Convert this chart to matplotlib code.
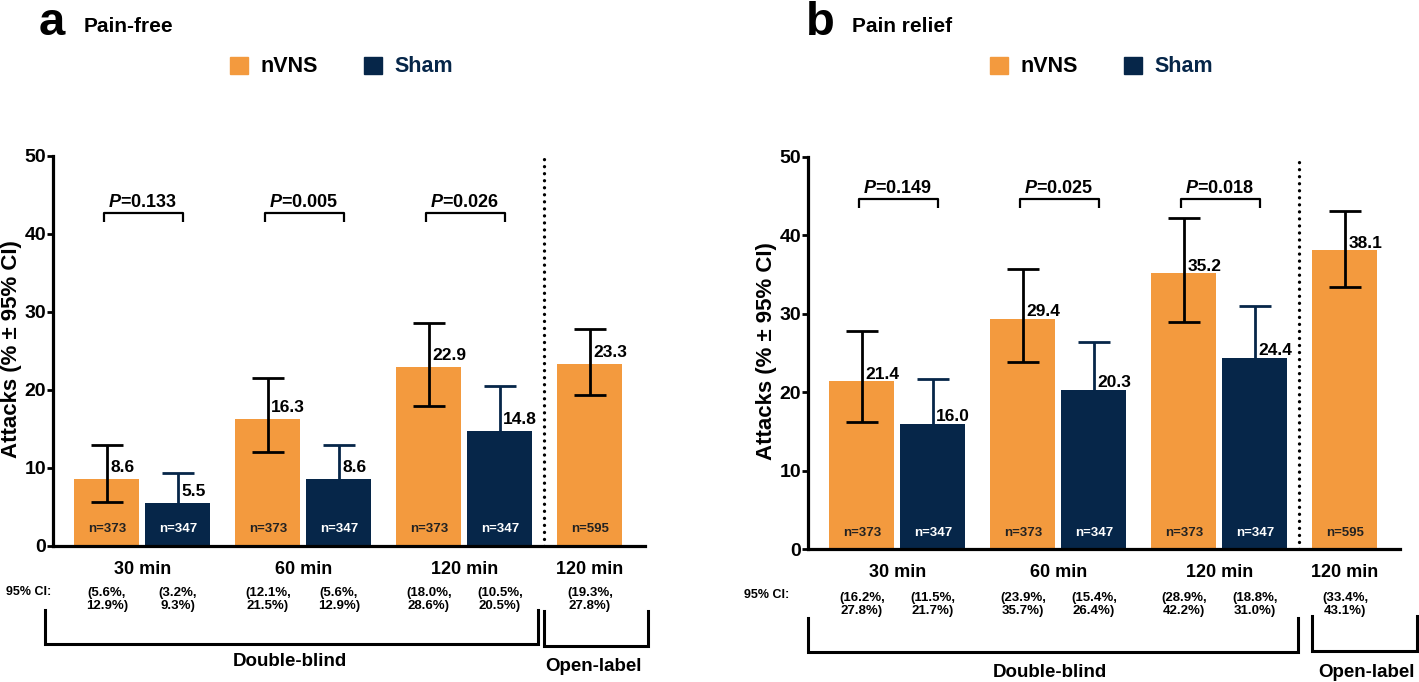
import matplotlib
matplotlib.use("Agg")
import matplotlib.pyplot as plt
from matplotlib.patches import Rectangle
from matplotlib.transforms import blended_transform_factory

plt.rcParams['font.family'] = 'Liberation Sans'
plt.rcParams['font.weight'] = 'bold'
plt.rcParams['axes.labelweight'] = 'bold'
plt.rcParams['mathtext.fontset'] = 'custom'
plt.rcParams['mathtext.it'] = 'Liberation Sans:italic:bold'
plt.rcParams['mathtext.rm'] = 'Liberation Sans:bold'

ORANGE = '#f39a3e'
NAVY = '#062649'
W, H = 1419, 682

times = ['30 min', '60 min', '120 min']
open_time = '120 min'
n_nvns = [373, 373, 373, 595]
n_sham = [347, 347, 347]

# a: pain-free
pf_nvns = [8.6, 16.3, 22.9, 23.3]
pf_nvns_lo = [5.6, 12.1, 18.0, 19.3]
pf_nvns_hi = [12.9, 21.5, 28.6, 27.8]
pf_sham = [5.5, 8.6, 14.8]
pf_sham_lo = [3.2, 5.6, 10.5]
pf_sham_hi = [9.3, 12.9, 20.5]
pf_p = ['0.133', '0.005', '0.026']

# b: pain relief
pr_nvns = [21.4, 29.4, 35.2, 38.1]
pr_nvns_lo = [16.2, 23.9, 28.9, 33.4]
pr_nvns_hi = [27.8, 35.7, 42.2, 43.1]
pr_sham = [16.0, 20.3, 24.4]
pr_sham_lo = [11.5, 15.4, 18.8]
pr_sham_hi = [21.7, 26.4, 31.0]
pr_p = ['0.149', '0.025', '0.018']

BW = 0.404
OFF = 0.441


def draw_panel(ax, nvns, nvns_lo, nvns_hi, sham, sham_lo, sham_hi, pvals, lay):
    xo = list(range(len(nvns)))
    xs = [i + OFF for i in range(len(sham))]
    ax.bar(xo, nvns, width=BW, color=ORANGE, zorder=2)
    ax.bar(xs, sham, width=BW, color=NAVY, zorder=2)
    err_o = [[v - l for v, l in zip(nvns, nvns_lo)], [h - v for v, h in zip(nvns, nvns_hi)]]
    err_s = [[v - l for v, l in zip(sham, sham_lo)], [h - v for v, h in zip(sham, sham_hi)]]
    ax.errorbar(xo, nvns, yerr=err_o, fmt='none', ecolor='black', elinewidth=2,
                capsize=11.5, capthick=2, zorder=3)
    ax.errorbar(xs, sham, yerr=err_s, fmt='none', ecolor=NAVY, elinewidth=2,
                capsize=11.5, capthick=2, zorder=3)

    # value labels
    for x, v in zip(xo, nvns):
        ax.text(x + 0.02, v + lay['vpad'], f'{v:.1f}', fontsize=12.5, va='baseline', ha='left', zorder=4)
    for x, v in zip(xs, sham):
        ax.text(x + 0.02, v + lay['vpad'], f'{v:.1f}', fontsize=12.5, va='baseline', ha='left', zorder=4)
    # n labels
    for x, n in zip(xo, n_nvns):
        ax.text(x, lay['ny'], f'n={n}', fontsize=9.5, ha='center', va='center', color='#222222', zorder=4)
    for x, n in zip(xs, n_sham):
        ax.text(x, lay['ny'], f'n={n}', fontsize=9.5, ha='center', va='center', color='white', zorder=4)

    # p-value brackets
    for i, p in enumerate(pvals):
        x0, x1 = i - 0.02, i + 0.47
        ax.plot([x0, x0, x1, x1], [lay['pleg'], lay['ptop'], lay['ptop'], lay['pleg']],
                color='black', lw=1.6, solid_capstyle='butt')
        ax.text(i + OFF / 2, lay['ptxt'], r'$P$=' + p, fontsize=13, ha='center', va='baseline')

    # separator
    ax.axvline(2.715, color='black', lw=2.4, linestyle=(0, (0.01, 2.1)),
               dash_capstyle='round', zorder=1)

    ax.set_xlim(-0.335, 3.342)
    ax.set_ylim(0, 50)
    ax.set_yticks(range(0, 51, 10))
    ax.set_xticks([])
    for s in ['top', 'right']:
        ax.spines[s].set_visible(False)
    for s in ['left', 'bottom']:
        ax.spines[s].set_linewidth(2.3)
    ax.tick_params(axis='y', width=2, length=4, labelsize=14, pad=1)
    ax.set_ylabel('Attacks (% ± 95% CI)', fontsize=16, fontweight='bold')
    ax.yaxis.set_label_coords(-0.052, 0.505)

    trans = blended_transform_factory(ax.transData, ax.transAxes)
    for i, t in enumerate(times):
        ax.text(i + OFF / 2, lay['ty'], t, fontsize=13, ha='center', va='center', transform=trans)
    ax.text(3, lay['ty'], open_time, fontsize=13, ha='center', va='center', transform=trans)
    ax.text(lay['cix'], lay['ciy'], '95% CI:', fontsize=9, ha='center', va='center', transform=trans)
    for x, l, h in zip(xo, nvns_lo, nvns_hi):
        ax.text(x, lay['cy'], f'({l:.1f}%,\n{h:.1f}%)', fontsize=9.5, ha='center', va='center',
                transform=trans, linespacing=1.1)
    for x, l, h in zip(xs, sham_lo, sham_hi):
        ax.text(x, lay['cy'], f'({l:.1f}%,\n{h:.1f}%)', fontsize=9.5, ha='center', va='center',
                transform=trans, linespacing=1.1)

    # study phase brackets
    for (x0, x1, yt, yb) in lay['brackets']:
        ax.plot([x0, x0, x1, x1], [yt, yb, yb, yt], color='black', lw=2.2,
                transform=trans, clip_on=False, solid_joinstyle='miter')
    ax.text(lay['dbx'], lay['phy'], 'Double-blind', fontsize=13.5, ha='center', va='center', transform=trans)
    ax.text(lay['olx'], lay['oly'], 'Open-label', fontsize=13.5, ha='center', va='center', transform=trans)


fig = plt.figure(figsize=(W / 100, H / 100), dpi=100)
ax1 = fig.add_axes([53 / W, 1 - 546 / H, 592 / W, 390 / H])
ax2 = fig.add_axes([808 / W, 1 - 549 / H, 592 / W, 392 / H])

lay_a = dict(vpad=0.9, ny=2.2, pleg=41.5, ptop=42.7, ptxt=43.5, ty=-0.059, ciy=-0.118,
             cix=-0.484, cy=-0.138,
             brackets=[(-0.385, 2.677, -0.164, -0.251), (2.715, 3.361, -0.167, -0.256)],
             dbx=1.137, phy=-0.295, olx=3.025, oly=-0.31)
lay_b = dict(vpad=0.3, ny=2.0, pleg=43.5, ptop=44.6, ptxt=45.4, ty=-0.061, ciy=-0.117,
             cix=-0.59, cy=-0.141,
             brackets=[(-0.335, 2.708, -0.176, -0.263), (2.795, 3.447, -0.171, -0.260)],
             dbx=1.168, phy=-0.316, olx=3.131, oly=-0.316)

draw_panel(ax1, pf_nvns, pf_nvns_lo, pf_nvns_hi, pf_sham, pf_sham_lo, pf_sham_hi, pf_p, lay_a)
draw_panel(ax2, pr_nvns, pr_nvns_lo, pr_nvns_hi, pr_sham, pr_sham_lo, pr_sham_hi, pr_p, lay_b)

# panel letters, titles and legends
for lx, tx, letter, title in [(39, 84, 'a', 'Pain-free'), (806, 852, 'b', 'Pain relief')]:
    fig.text(lx / W, 1 - 35 / H, letter, fontsize=34, ha='left', va='baseline')
    fig.text(tx / W, 1 - 32 / H, title, fontsize=15, ha='left', va='baseline')
for sx in [230, 990]:
    fig.patches.append(Rectangle((sx / W, 1 - 74 / H), 18 / W, 17 / H, color=ORANGE,
                                 transform=fig.transFigure, figure=fig))
    fig.text((sx + 30) / W, 1 - 66 / H, 'nVNS', fontsize=15.5, ha='left', va='center', color='black')
    fig.patches.append(Rectangle(((sx + 134) / W, 1 - 74 / H), 18 / W, 17 / H, color=NAVY,
                                 transform=fig.transFigure, figure=fig))
    fig.text((sx + 164) / W, 1 - 66 / H, 'Sham', fontsize=15.5, ha='left', va='center', color=NAVY)

fig.savefig('out.png', dpi=100)
